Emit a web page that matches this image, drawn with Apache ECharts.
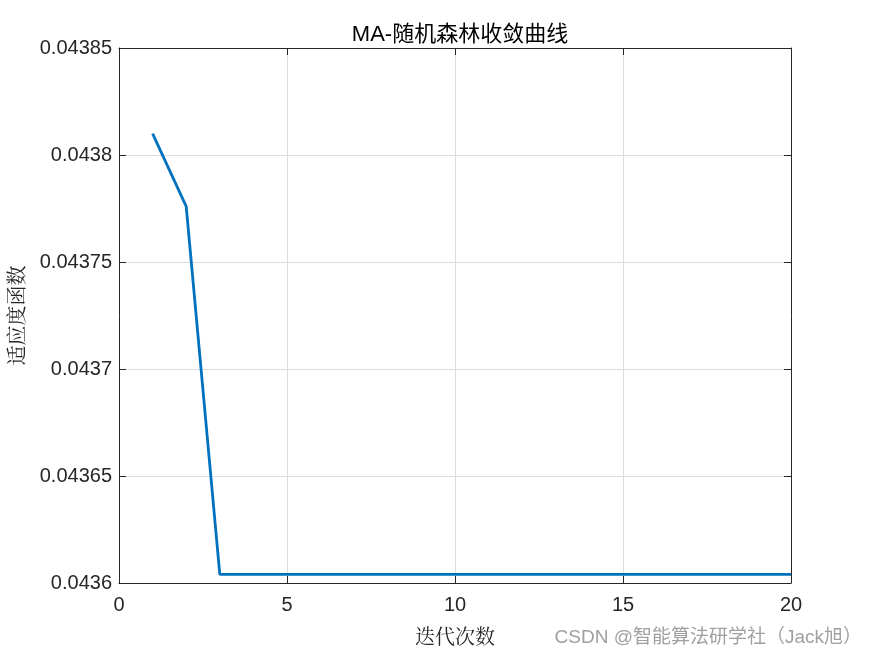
<!DOCTYPE html>
<html>
<head>
<meta charset="utf-8">
<script src="https://cdn.jsdelivr.net/npm/echarts@6/dist/echarts.min.js"></script>
<style>
  html, body { margin: 0; padding: 0; background: #fff; }
  #chart { width: 875px; height: 656px; }
</style>
</head>
<body>
<div id="chart"></div>
<script>
// iterations and fitness values
const iters = [1, 2, 3, 4, 5, 6, 7, 8, 9, 10, 11, 12, 13, 14, 15, 16, 17, 18, 19, 20];
const fitness = [0.043810, 0.043776, 0.043604, 0.043604, 0.043604, 0.043604, 0.043604, 0.043604, 0.043604, 0.043604,
                 0.043604, 0.043604, 0.043604, 0.043604, 0.043604, 0.043604, 0.043604, 0.043604, 0.043604, 0.043604];

const chart = echarts.init(document.getElementById('chart'));
const fmtY = v => String(parseFloat(v.toFixed(5)));
const tickStyle = { show: true, inside: true, length: 7, lineStyle: { color: '#262626', width: 1 } };
const labelFont = { color: '#262626', fontSize: 20, fontFamily: 'Liberation Sans, Arial' };

chart.setOption({
  backgroundColor: '#fff',
  animation: false,
  title: {
    text: 'MA-随机森林收敛曲线',
    left: 455, top: 19, textAlign: 'center',
    textStyle: { fontSize: 22, fontWeight: 'normal', color: '#000', fontFamily: 'Liberation Sans, Noto Sans CJK SC' }
  },
  grid: { left: 119, right: 84, top: 48, bottom: 73, containLabel: false, outerBoundsMode: 'none' },
  xAxis: [
    {
      type: 'value', min: 0, max: 20, interval: 5, position: 'bottom',
      name: '迭代次数', nameLocation: 'middle', nameGap: 43,
      nameTextStyle: { fontSize: 20, color: '#262626', fontFamily: 'Noto Serif CJK SC, serif' },
      axisLine: { show: true, onZero: false, lineStyle: { color: '#262626' } },
      axisTick: tickStyle,
      axisLabel: Object.assign({ margin: 12 }, labelFont),
      splitLine: { show: true, lineStyle: { color: '#dcdcdc', width: 1 } }
    },
    {
      type: 'value', min: 0, max: 20, interval: 5, position: 'top',
      axisLine: { show: true, onZero: false, lineStyle: { color: '#262626' } },
      axisTick: tickStyle, axisLabel: { show: false }, splitLine: { show: false }
    }
  ],
  yAxis: [
    {
      type: 'value', min: 0.0436, max: 0.04385, interval: 0.00005, position: 'left',
      name: '适应度函数', nameLocation: 'middle', nameGap: 93, nameRotate: 90,
      nameTextStyle: { fontSize: 20, color: '#262626', fontFamily: 'Noto Serif CJK SC, serif' },
      axisLine: { show: true, onZero: false, lineStyle: { color: '#262626' } },
      axisTick: tickStyle,
      axisLabel: Object.assign({ margin: 7, formatter: fmtY }, labelFont),
      splitLine: { show: true, lineStyle: { color: '#dcdcdc', width: 1 } }
    },
    {
      type: 'value', min: 0.0436, max: 0.04385, interval: 0.00005, position: 'right',
      axisLine: { show: true, onZero: false, lineStyle: { color: '#262626' } },
      axisTick: tickStyle, axisLabel: { show: false }, splitLine: { show: false }
    }
  ],
  graphic: [{
    type: 'text', right: 13, bottom: 9,
    style: { text: 'CSDN @智能算法研学社（Jack旭）', fontSize: 19, fill: '#a0a0a0', fontFamily: 'Liberation Sans, Noto Sans CJK SC' }
  }],
  series: [{
    type: 'line',
    data: iters.map((x, i) => [x, fitness[i]]),
    showSymbol: false,
    lineStyle: { color: '#0072BD', width: 2.8 },
    itemStyle: { color: '#0072BD' }
  }]
});
</script>
</body>
</html>
